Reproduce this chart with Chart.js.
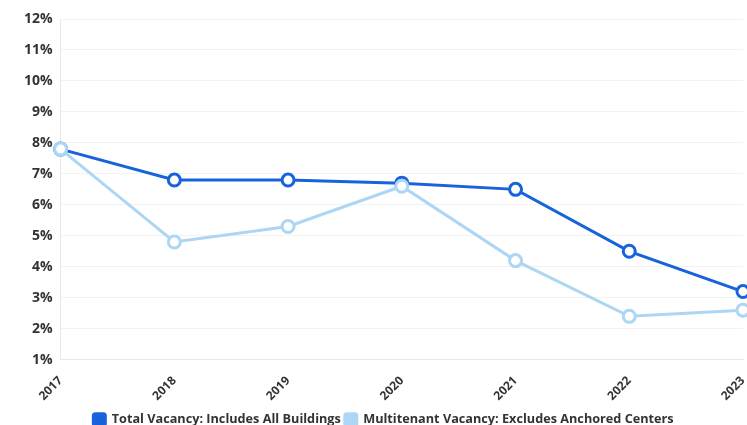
<!DOCTYPE html>
<html>
<head>
<meta charset="utf-8">
<script src="https://cdn.jsdelivr.net/npm/chart.js@4/dist/chart.umd.min.js"></script>
<style>
  html, body { margin: 0; padding: 0; background: #fff; overflow: hidden; }
  #wrap { position: relative; width: 768px; height: 436px; }
</style>
</head>
<body>
<div id="wrap"><canvas id="chart"></canvas></div>
<script>
const years = ['2017', '2018', '2019', '2020', '2021', '2022', '2023'];
const totalVacancy = [7.8, 6.8, 6.8, 6.7, 6.5, 4.5, 3.2];
const multitenantVacancy = [7.8, 4.8, 5.3, 6.6, 4.2, 2.4, 2.6];
const seriesNames = ['Total Vacancy: Includes All Buildings', 'Multitenant Vacancy: Excludes Anchored Centers'];

const darkBlue = '#1763db';
const lightBlue = '#acd6f4';
const fontFamily = '"Open Sans", sans-serif';

function lineSeries(label, data, color) {
  return {
    label: label,
    data: data,
    borderColor: color,
    backgroundColor: color,
    borderWidth: 3,
    pointRadius: 6,
    pointHoverRadius: 6,
    pointBorderWidth: 3,
    pointBackgroundColor: '#ffffff',
    pointBorderColor: color,
    tension: 0,
    fill: false
  };
}

// nudge the legend row slightly to the right
const legendOffset = {
  id: 'legendOffset',
  beforeDraw(chart) {
    if (chart.legend && !chart.legend._nudged) {
      chart.legend.left += 4;
      chart.legend.right += 4;
      chart.legend._nudged = true;
    }
  }
};

new Chart(document.getElementById('chart'), {
  type: 'line',
  data: {
    labels: years,
    datasets: [
      lineSeries(seriesNames[1], multitenantVacancy, lightBlue),
      lineSeries(seriesNames[0], totalVacancy, darkBlue)
    ]
  },
  plugins: [legendOffset],
  options: {
    responsive: true,
    maintainAspectRatio: false,
    animation: false,
    layout: { padding: { top: 19, left: 16, right: 25, bottom: 0 } },
    plugins: {
      tooltip: { enabled: false },
      legend: {
        position: 'bottom',
        reverse: true,
        labels: {
          boxWidth: 12,
          boxHeight: 12,
          useBorderRadius: true,
          borderRadius: 2,
          padding: 4,
          color: '#333333',
          font: { family: fontFamily, size: 12.7, weight: 'bold' }
        }
      }
    },
    scales: {
      x: {
        grid: { display: false },
        border: { color: '#e8e8e8' },
        ticks: {
          color: '#333333',
          maxRotation: 45,
          minRotation: 45,
          padding: 6,
          font: { family: fontFamily, size: 12, weight: 'bold' }
        }
      },
      y: {
        min: 1,
        max: 12,
        grid: { color: '#f2f2f2', drawTicks: false },
        border: { color: '#e8e8e8' },
        ticks: {
          stepSize: 1,
          color: '#333333',
          padding: 8,
          callback: v => v + '%',
          font: { family: fontFamily, size: 14, weight: 'bold' }
        }
      }
    }
  }
});
</script>
</body>
</html>
